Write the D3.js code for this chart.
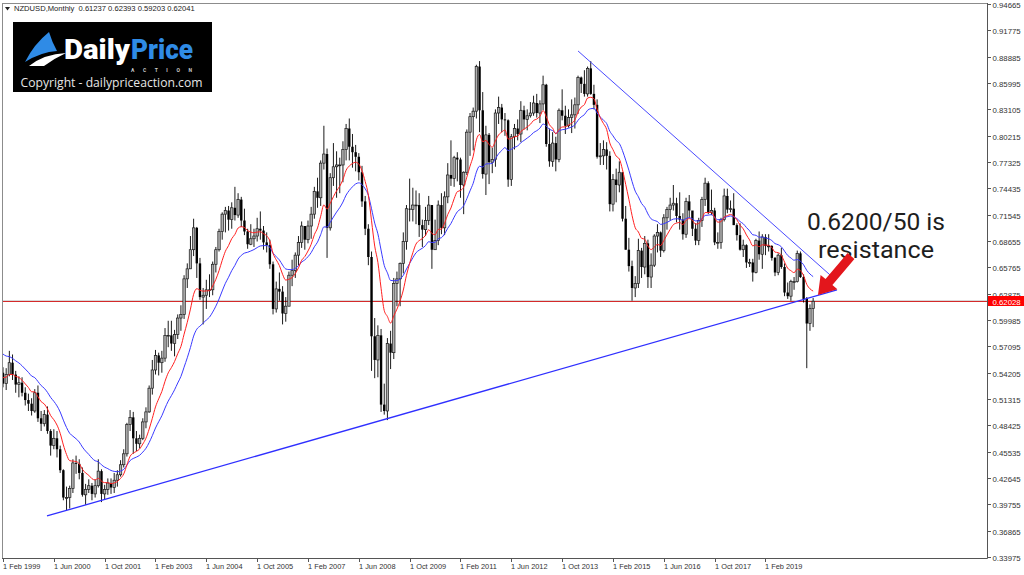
<!DOCTYPE html>
<html><head><meta charset="utf-8">
<script src="https://cdn.jsdelivr.net/npm/d3@7/dist/d3.min.js"></script>
<style>html,body{margin:0;padding:0;background:#fff;overflow:hidden}svg{display:block}</style>
</head><body>
<svg id="chart" width="1024" height="575"></svg>
<script>
// ---------------- DATA (NZDUSD monthly, Feb 1999 .. May 2020) ----------------
const symbolTitle = "NZDUSD,Monthly";
const lastQuote = ["0.61237", "0.62393", "0.59203", "0.62041"];
const firstMonth = "1999-02";

// closes before the first visible bar (Jan 1996 .. Jan 1999), used to seed the moving averages
const priorCloses = [
  .6650,.6750,.6850,.6850,.6900,.6880,.6900,.6930,.6950,.7050,.7050,.7080,
  .7000,.6900,.6900,.6880,.6850,.6800,.6650,.6450,.6400,.6250,.5950,.5820,
  .5750,.5850,.5580,.5450,.5350,.5120,.5180,.4980,.5100,.5300,.5360,.5250,
  .5420];

const opens = [
  .5420,.5300,.5400,.5530,.5400,.5290,.5310,.5200,.5120,.5080,.5000,
  .5200,.4920,.4860,.4960,.4780,.4620,.4700,.4580,.4350,.4050,.4050,.4150,
  .4430,.4420,.4320,.4080,.4140,.4180,.4090,.4180,.4340,.4090,.4140,.4210,
  .4160,.4240,.4300,.4410,.4530,.4850,.4930,.4700,.4640,.4700,.4880,.4990,
  .5250,.5450,.5610,.5530,.5580,.5830,.5830,.5740,.5840,.6020,.6060,.6450,
  .6560,.6770,.7010,.6620,.6250,.6270,.6330,.6330,.6610,.6770,.6970,.7160,
  .7200,.7100,.7230,.7150,.7320,.7090,.6970,.6830,.6890,.6920,.7000,.6980,
  .6850,.6820,.6610,.6120,.6340,.6310,.6070,.6150,.6490,.6540,.6710,.6850,
  .7030,.6880,.7030,.7160,.7410,.7340,.7720,.7820,.7010,.7560,.7680,.7700,
  .7700,.7870,.8100,.7900,.7840,.7790,.7620,.7300,.7000,.6690,.5820,.5560,
  .5830,.5070,.5000,.5740,.5640,.6400,.6450,.6620,.6860,.7220,.7210,.7260,
  .7260,.7040,.6990,.7090,.7260,.6770,.6870,.7260,.7010,.7350,.7590,.7550,
  .7780,.7760,.7480,.7620,.8060,.8230,.8290,.8780,.8300,.7600,.8030,.7730,
  .7760,.8270,.8330,.8200,.8190,.7540,.8010,.8100,.8040,.8300,.8200,.8240,
  .8270,.8380,.8270,.8370,.8580,.7930,.7740,.7940,.7760,.8300,.8240,.8130,
  .8220,.8250,.8360,.8660,.8590,.8480,.8760,.8480,.8360,.7790,.7800,.7870,
  .7800,.7270,.7540,.7480,.7620,.7110,.6770,.6590,.6350,.6400,.6760,.6580,
  .6840,.6470,.6600,.6920,.6960,.6760,.7120,.7210,.7260,.7280,.7140,.7100,
  .6940,.7300,.7200,.7000,.6870,.7090,.7320,.7500,.7180,.7200,.6850,.6850,
  .7100,.7360,.7210,.7220,.7040,.6930,.6770,.6820,.6630,.6630,.6520,.6870,
  .6720,.6910,.6810,.6810,.6680,.6520,.6710,.6580,.6300,.6260,.6420,.6420,
  .6730,.6470,.6230,.5960,.61237];

const highs = [
  .5480,.5470,.5660,.5620,.5440,.5380,.5370,.5260,.5190,.5140,.5240,
  .5280,.5000,.5010,.5050,.4800,.4800,.4780,.4620,.4360,.4170,.4180,.4470,
  .4510,.4470,.4380,.4200,.4250,.4210,.4250,.4470,.4360,.4190,.4260,.4260,
  .4320,.4350,.4460,.4580,.4870,.5010,.4990,.4780,.4740,.4920,.5040,.5280,
  .5560,.5670,.5640,.5660,.5910,.5990,.5990,.5890,.6060,.6160,.6490,.6620,
  .6920,.7110,.7020,.6680,.6350,.6440,.6500,.6640,.6800,.7000,.7180,.7240,
  .7250,.7290,.7460,.7390,.7350,.7220,.7000,.7050,.7000,.7120,.7190,.7030,
  .6960,.6880,.6640,.6420,.6520,.6370,.6250,.6530,.6660,.6740,.6920,.7080,
  .7030,.7090,.7240,.7460,.7560,.7750,.8130,.7880,.7610,.7940,.7850,.7780,
  .7960,.8150,.8210,.8040,.7920,.7830,.7690,.7360,.7050,.6750,.6020,.5940,
  .5900,.5300,.5800,.5880,.6460,.6530,.6630,.6960,.7260,.7550,.7450,.7420,
  .7390,.7100,.7240,.7360,.7260,.7100,.7310,.7390,.7410,.7720,.7970,.7800,
  .7840,.7780,.7630,.8090,.8270,.8330,.8800,.8840,.8500,.8130,.8050,.7890,
  .8310,.8450,.8370,.8270,.8200,.8040,.8150,.8200,.8400,.8350,.8310,.8390,
  .8460,.8480,.8410,.8680,.8590,.8100,.8060,.8010,.8320,.8530,.8350,.8310,
  .8420,.8440,.8680,.8670,.8740,.8780,.8840,.8580,.8420,.7940,.7970,.7950,
  .7850,.7600,.7660,.7740,.7620,.7250,.6900,.6650,.6480,.6890,.6790,.6920,
  .6880,.6730,.6940,.7050,.6970,.7160,.7240,.7340,.7480,.7340,.7400,.7170,
  .7340,.7370,.7180,.7060,.7120,.7350,.7560,.7520,.7430,.7230,.6960,.7120,
  .7440,.7440,.7310,.7390,.7060,.7060,.6880,.6830,.6670,.6670,.6890,.6970,
  .6940,.6940,.6940,.6820,.6690,.6730,.6790,.6620,.6410,.6440,.6470,.6760,
  .6750,.6500,.6250,.6170,.62393];

const lows = [
  .5260,.5230,.5380,.5340,.5200,.5150,.5160,.5060,.5000,.4950,.4980,
  .4880,.4780,.4830,.4750,.4510,.4580,.4490,.4320,.4020,.3910,.3930,.4100,
  .4310,.4250,.4060,.3970,.4100,.4020,.4050,.4160,.4000,.4030,.4080,.4090,
  .4100,.4170,.4280,.4380,.4500,.4780,.4530,.4560,.4590,.4680,.4810,.4980,
  .5180,.5400,.5390,.5420,.5540,.5700,.5660,.5600,.5790,.5880,.6010,.6350,
  .6560,.6700,.6460,.6220,.5950,.6120,.6250,.6270,.6520,.6750,.6880,.6960,
  .6980,.7000,.7090,.7120,.7020,.6930,.6780,.6820,.6800,.6860,.6880,.6770,
  .6740,.6560,.6060,.6080,.6210,.5950,.5980,.6150,.6370,.6460,.6600,.6790,
  .6770,.6840,.6890,.7110,.7230,.7250,.7650,.6680,.6980,.7470,.7340,.7390,
  .7510,.7750,.7750,.7670,.7630,.7530,.7240,.6930,.6600,.5440,.5360,.5370,
  .4990,.4960,.4900,.5460,.5570,.6150,.6150,.6510,.6770,.7080,.7080,.7050,
  .6910,.6800,.6920,.7040,.6560,.6770,.6820,.6940,.6930,.7280,.7470,.7460,
  .7520,.7340,.7160,.7590,.7800,.7860,.8210,.8060,.7550,.7370,.7490,.7610,
  .7680,.8150,.8060,.8020,.7460,.7470,.7870,.7970,.7950,.8090,.8080,.8220,
  .8240,.8220,.8160,.8300,.7900,.7680,.7680,.7630,.7730,.8190,.8040,.8110,
  .8050,.8100,.8260,.8490,.8450,.8450,.8470,.8310,.7770,.7700,.7700,.7650,
  .7190,.7190,.7290,.7400,.7080,.6770,.6530,.6210,.6250,.6350,.6460,.6500,
  .6350,.6350,.6580,.6740,.6690,.6740,.6990,.7090,.7200,.7070,.6990,.6880,
  .6900,.7120,.6920,.6820,.6820,.7020,.7250,.7160,.7150,.6820,.6780,.6780,
  .7080,.7170,.7180,.7040,.6870,.6760,.6690,.6570,.6580,.6420,.6510,.6660,
  .6560,.6710,.6750,.6650,.6480,.6490,.6560,.6260,.6230,.6210,.6330,.6410,
  .6460,.6190,.5470,.5880,.59203];

const closes = [
  .5300,.5400,.5530,.5400,.5290,.5310,.5200,.5120,.5080,.5000,.5200,
  .4920,.4860,.4960,.4780,.4620,.4700,.4580,.4350,.4050,.4050,.4150,.4430,
  .4420,.4320,.4080,.4140,.4180,.4090,.4180,.4340,.4090,.4140,.4210,.4160,
  .4240,.4300,.4410,.4530,.4850,.4930,.4700,.4640,.4700,.4880,.4990,.5250,
  .5450,.5610,.5530,.5580,.5830,.5830,.5740,.5840,.6020,.6060,.6450,.6560,
  .6770,.7010,.6620,.6250,.6270,.6330,.6330,.6610,.6770,.6970,.7160,.7200,
  .7100,.7230,.7150,.7320,.7090,.6970,.6830,.6890,.6920,.7000,.6980,.6850,
  .6820,.6610,.6120,.6340,.6310,.6070,.6150,.6490,.6540,.6710,.6850,.7030,
  .6880,.7030,.7160,.7410,.7340,.7720,.7820,.7010,.7560,.7680,.7700,.7700,
  .7870,.8100,.7900,.7840,.7790,.7620,.7300,.7000,.6690,.5820,.5560,.5830,
  .5070,.5000,.5740,.5640,.6400,.6450,.6620,.6860,.7220,.7210,.7260,.7260,
  .7040,.6990,.7090,.7260,.6770,.6870,.7260,.7010,.7350,.7590,.7550,.7780,
  .7760,.7480,.7620,.8060,.8230,.8290,.8780,.8300,.7600,.8030,.7730,.7760,
  .8270,.8330,.8200,.8190,.7540,.8010,.8100,.8040,.8300,.8200,.8240,.8270,
  .8380,.8270,.8370,.8580,.7930,.7740,.7940,.7760,.8300,.8240,.8130,.8220,
  .8250,.8360,.8660,.8590,.8480,.8760,.8480,.8360,.7790,.7800,.7870,.7800,
  .7270,.7540,.7480,.7620,.7110,.6770,.6590,.6350,.6400,.6760,.6580,.6840,
  .6470,.6600,.6920,.6960,.6760,.7120,.7210,.7260,.7280,.7140,.7100,.6940,
  .7300,.7200,.7000,.6870,.7090,.7320,.7500,.7180,.7200,.6850,.6850,.7100,
  .7360,.7210,.7220,.7040,.6930,.6770,.6820,.6630,.6630,.6520,.6870,.6720,
  .6910,.6810,.6810,.6680,.6520,.6710,.6580,.6300,.6260,.6420,.6420,.6730,
  .6470,.6230,.5960,.6124,.62041];

const xTickLabels = ["1 Feb 1999","1 Jun 2000","1 Oct 2001","1 Feb 2003","1 Jun 2004","1 Oct 2005",
  "1 Feb 2007","1 Jun 2008","1 Oct 2009","1 Feb 2011","1 Jun 2012","1 Oct 2013","1 Feb 2015",
  "1 Jun 2016","1 Oct 2017","1 Feb 2019"];
const xTickBars = [0,16,32,48,64,80,96,112,128,144,160,176,192,208,224,240];

const yTickLabels = ["0.94665","0.91775","0.88885","0.85995","0.83105","0.80215","0.77325","0.74435",
  "0.71545","0.68655","0.65765","0.62875","0.59985","0.57095","0.54205","0.51315","0.48425",
  "0.45535","0.42645","0.39755","0.36865","0.33975"];

const emaFastPeriod = 10, emaSlowPeriod = 20;
const currentPrice = 0.62028;
// trend lines: [bar index, price]
const lowerTrend = [[13.85, 0.3848], [262.5, 0.6328]];
const upperTrend = [[181.0, 0.8951], [260.9, 0.6475]];
const noteLines = ["0.6200/50 is", "resistance"];

// ---------------- CHART ----------------
const svg = d3.select("#chart");
const W = 1024, H = 575;
const plot = {left: 2, top: 3, right: 987, bottom: 558};

const x = d3.scaleLinear().domain([0, 255]).range([3, 3 + 255 * 3.177]);
const y = d3.scaleLinear().domain([0.33975, 0.94665]).range([557, 4]);

svg.append("rect").attr("width", W).attr("height", H).attr("fill", "#fff");

// frame
svg.append("line").attr("x1", plot.left + 0.5).attr("x2", plot.left + 0.5).attr("y1", plot.top).attr("y2", plot.bottom)
  .attr("stroke", "#8c8c8c");
svg.append("line").attr("x1", plot.left).attr("x2", plot.right).attr("y1", plot.top + 0.5).attr("y2", plot.top + 0.5)
  .attr("stroke", "#8c8c8c");

svg.append("defs").append("clipPath").attr("id", "pc").append("rect")
  .attr("x", plot.left + 1).attr("y", plot.top + 1).attr("width", plot.right - plot.left - 1).attr("height", plot.bottom - plot.top - 1);
const g = svg.append("g").attr("clip-path", "url(#pc)");

// current price lines
const yp = Math.round(y(currentPrice)) + 0.5;
g.append("line").attr("x1", plot.left).attr("x2", plot.right).attr("y1", yp - 1).attr("y2", yp - 1).attr("stroke", "#d8d8d8");
g.append("line").attr("x1", plot.left).attr("x2", plot.right).attr("y1", yp).attr("y2", yp).attr("stroke", "#d42a2a");

// candles
const bars = d3.range(closes.length).map(i => ({i, o: opens[i], h: highs[i], l: lows[i], c: closes[i]}));
const cg = g.append("g");
cg.selectAll("line.wick").data(bars).join("line").attr("class", "wick")
  .attr("x1", d => x(d.i)).attr("x2", d => x(d.i))
  .attr("y1", d => y(d.h)).attr("y2", d => y(d.l))
  .attr("stroke", "#000").attr("stroke-width", 0.9);
const bw = 2.4;
cg.selectAll("rect.body").data(bars).join("rect").attr("class", "body")
  .attr("x", d => x(d.i) - bw / 2)
  .attr("y", d => y(Math.max(d.o, d.c)))
  .attr("width", bw)
  .attr("height", d => Math.max(0.8, Math.abs(y(d.o) - y(d.c))))
  .attr("fill", d => d.c >= d.o ? "#b0b0b0" : "#000")
  .attr("stroke", d => d.c >= d.o ? "#1a1a1a" : "none")
  .attr("stroke-width", 0.7);

// exponential moving averages of the closes
function ema(series, period) {
  const k = 2 / (period + 1);
  let e = series[0];
  return series.map((v, j) => (j === 0 ? e : (e = v * k + e * (1 - k))));
}
const allCloses = priorCloses.concat(closes);
const skip = priorCloses.length;
const emaFast = ema(allCloses, emaFastPeriod).slice(skip);
const emaSlow = ema(allCloses, emaSlowPeriod).slice(skip);
const line = d3.line().x((d, i) => x(i)).y(d => y(d)).curve(d3.curveMonotoneX);
g.append("path").attr("d", line(emaSlow)).attr("fill", "none").attr("stroke", "#3a3aff").attr("stroke-width", 1);
g.append("path").attr("d", line(emaFast)).attr("fill", "none").attr("stroke", "#ff2020").attr("stroke-width", 1);

// trend lines
const tl = d3.line().x(d => x(d[0])).y(d => y(d[1]));
g.append("path").attr("d", tl(lowerTrend)).attr("stroke", "#2f2fff").attr("stroke-width", 1.3).attr("fill", "none");
g.append("path").attr("d", tl(upperTrend)).attr("stroke", "#4a4aff").attr("stroke-width", 1).attr("fill", "none");

// right axis
svg.append("line").attr("x1", plot.right + 0.5).attr("x2", plot.right + 0.5).attr("y1", plot.top).attr("y2", plot.bottom + 0.5)
  .attr("stroke", "#555");
const yAxis = svg.append("g");
yTickLabels.forEach(t => {
  const yy = Math.round(y(+t)) + 0.5;
  yAxis.append("line").attr("x1", plot.right).attr("x2", plot.right + 4).attr("y1", yy).attr("y2", yy).attr("stroke", "#555");
  yAxis.append("text").attr("x", plot.right + 5.5).attr("y", yy + 3).text(t)
    .attr("font-family", "Liberation Sans, Arial, sans-serif").attr("font-size", 7.8).attr("fill", "#333");
});
// price tag
svg.append("rect").attr("x", plot.right + 1).attr("y", yp - 5.5).attr("width", 36).attr("height", 10).attr("fill", "#f00");
svg.append("text").attr("x", plot.right + 5.5).attr("y", yp + 3).text(currentPrice.toFixed(5))
  .attr("font-family", "Liberation Sans, Arial, sans-serif").attr("font-size", 7.8).attr("fill", "#fff");

// bottom axis
svg.append("line").attr("x1", plot.left).attr("x2", plot.right + 0.5).attr("y1", plot.bottom + 0.5).attr("y2", plot.bottom + 0.5)
  .attr("stroke", "#555");
xTickBars.forEach((b, k) => {
  const xx = Math.round(x(b)) + 0.5;
  svg.append("line").attr("x1", xx).attr("x2", xx).attr("y1", plot.bottom).attr("y2", plot.bottom + 4).attr("stroke", "#555");
  svg.append("text").attr("x", xx - 0.5).attr("y", 569).text(xTickLabels[k])
    .attr("font-family", "Liberation Sans, Arial, sans-serif").attr("font-size", 7.4).attr("fill", "#333");
});

// header
svg.append("path").attr("d", "M5,7 L10,7 L7.5,10.5 Z").attr("fill", "#222");
svg.append("text").attr("x", 14).attr("y", 11).attr("xml:space", "preserve").style("white-space", "pre")
  .text(symbolTitle + "  " + lastQuote.join(" "))
  .attr("font-family", "Liberation Sans, Arial, sans-serif").attr("font-size", 7.6).attr("fill", "#222");

// logo
const logo = svg.append("g");
logo.append("rect").attr("x", 13).attr("y", 22).attr("width", 199).attr("height", 70).attr("fill", "#000");
logo.append("path").attr("d", "M29,66 Q44,54 66,53 Q55,58 44,66 Z").attr("fill", "#fff");
logo.append("path").attr("d", "M25,62 Q34,44 49,32 Q52,42 57,51 Q41,52 25,62 Z").attr("fill", "#2f8be6");
const brand = logo.append("text").attr("font-family", "Roboto, sans-serif");
brand.append("tspan").attr("x", 64).attr("y", 59).text("Daily")
  .attr("font-weight", 900).attr("font-size", 27).attr("fill", "#fff").attr("textLength", 66).attr("lengthAdjust", "spacingAndGlyphs");
brand.append("tspan").attr("x", 131).attr("y", 59).text("Price")
  .attr("font-weight", 900).attr("font-size", 27).attr("fill", "#2f8be6").attr("textLength", 62).attr("lengthAdjust", "spacingAndGlyphs");
logo.append("text").attr("x", 131).attr("y", 71.6).text("A C T I O N").attr("font-family", "Roboto, sans-serif")
  .attr("font-weight", 700).attr("font-size", 5).attr("fill", "#ccc").attr("textLength", 61);
logo.append("text").attr("x", 20.5).attr("y", 86.5).text("Copyright - dailypriceaction.com").attr("font-family", "Open Sans, sans-serif")
  .attr("font-size", 12).attr("fill", "#e6e6e6").attr("textLength", 182).attr("lengthAdjust", "spacingAndGlyphs");

// annotation (one text block, two lines)
const noteWidths = [138, 116];
const note = svg.append("text").attr("text-anchor", "middle")
  .attr("font-family", "Roboto, sans-serif").attr("font-size", 24).attr("fill", "#1e1e1e");
noteLines.forEach((t, k) => {
  note.append("tspan").attr("x", 876).attr("y", 230 + k * 28).text(t)
    .attr("textLength", noteWidths[k]).attr("lengthAdjust", "spacingAndGlyphs");
});
// arrow pointing at the resistance
const tip = [818, 295], tail = [851, 256];
const ang = Math.atan2(tail[1] - tip[1], tail[0] - tip[0]) * 180 / Math.PI;
const len = Math.hypot(tail[0] - tip[0], tail[1] - tip[1]);
svg.append("path")
  .attr("d", `M0,0 L17,-11 L17,-4.5 L${len},-4.5 L${len},4.5 L17,4.5 L17,11 Z`)
  .attr("transform", `translate(${tip[0]},${tip[1]}) rotate(${ang})`)
  .attr("fill", "#e3161c");
</script>
</body></html>
